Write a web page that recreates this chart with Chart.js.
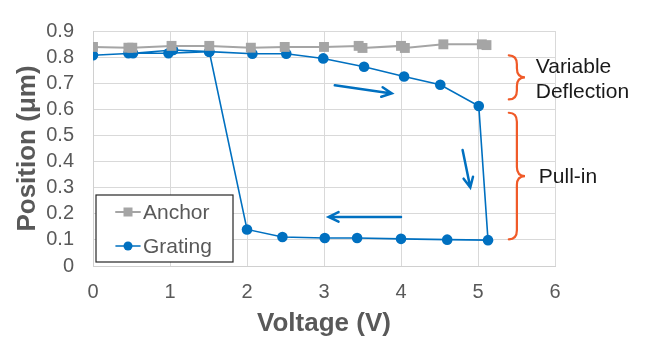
<!DOCTYPE html>
<html>
<head>
<meta charset="utf-8">
<script src="https://cdn.jsdelivr.net/npm/chart.js@4.4.0/dist/chart.umd.min.js"></script>
<style>
  html, body { margin: 0; padding: 0; background: #fff; }
  #wrap { width: 647px; height: 345px; position: relative; }
</style>
</head>
<body>
<div id="wrap"><canvas id="chart"></canvas></div>
<script>
// values
var anchorVolt = [0, 0.46, 0.51, 1.02, 1.51, 2.05, 2.49, 3.0, 3.45, 3.5, 4.0, 4.05, 4.55, 5.05, 5.11];
var anchorPos  = [0.839, 0.836, 0.836, 0.843, 0.843, 0.836, 0.839, 0.839, 0.843, 0.835, 0.843, 0.835, 0.849, 0.849, 0.846];

// sweep up, pull-in, then sweep back down
var gratingVolt = [0, 0.52, 1.04, 1.51, 2.07, 2.51, 2.99, 3.52, 4.04, 4.51, 5.01, 5.13, 4.6, 4.0, 3.43, 3.01, 2.46, 2.0, 1.51, 0.98, 0.46];
var gratingPos  = [0.807, 0.815, 0.827, 0.821, 0.813, 0.813, 0.795, 0.763, 0.726, 0.694, 0.613, 0.099, 0.101, 0.104, 0.107, 0.107, 0.111, 0.14, 0.821, 0.815, 0.815];

var xTicks = [0, 1, 2, 3, 4, 5, 6];
var yTicks = [0, 0.1, 0.2, 0.3, 0.4, 0.5, 0.6, 0.7, 0.8, 0.9];

var FONT = "'Liberation Sans', Arial, sans-serif";
var GRAY = '#A5A5A5', BLUE = '#0070C0', ORANGE = '#F05A28';

function pts(xs, ys) {
  return xs.map(function (x, i) { return { x: x, y: ys[i] }; });
}

// arrows, braces and notes, placed in data units
var arrows = [
  { from: [3.14, 0.692], to: [3.88, 0.661] },
  { from: [4.80, 0.444], to: [4.90, 0.301] },
  { from: [4.00, 0.188], to: [3.06, 0.188] }
];
var braces = [
  { x0: 5.40, x1: 5.61, y0: 0.807, y1: 0.638 },
  { x0: 5.40, x1: 5.61, y0: 0.587, y1: 0.102 }
];
var notes = [
  { text: 'Variable', x: 5.75, y: 0.761 },
  { text: 'Deflection', x: 5.75, y: 0.664 },
  { text: 'Pull-in', x: 5.79, y: 0.341 }
];

function drawBrace(ctx, xl, xr, yt, yb) {
  var ym = (yt + yb) / 2, w = xr - xl, r = Math.min(9, (yb - yt) / 4);
  ctx.beginPath();
  ctx.moveTo(xl, yt);
  ctx.quadraticCurveTo(xl + w * 0.5, yt, xl + w * 0.5, yt + r);
  ctx.lineTo(xl + w * 0.5, ym - r);
  ctx.quadraticCurveTo(xl + w * 0.5, ym, xr, ym);
  ctx.quadraticCurveTo(xl + w * 0.5, ym, xl + w * 0.5, ym + r);
  ctx.lineTo(xl + w * 0.5, yb - r);
  ctx.quadraticCurveTo(xl + w * 0.5, yb, xl, yb);
  ctx.stroke();
}

var extras = {
  id: 'extras',
  afterDatasetsDraw: function (chart) {
    var ctx = chart.ctx, xs = chart.scales.x, ys = chart.scales.y;
    ctx.save();
    // arrows
    ctx.strokeStyle = BLUE;
    ctx.lineWidth = 2.5;
    ctx.lineCap = 'round';
    arrows.forEach(function (a) {
      var x0 = xs.getPixelForValue(a.from[0]), y0 = ys.getPixelForValue(a.from[1]);
      var x1 = xs.getPixelForValue(a.to[0]), y1 = ys.getPixelForValue(a.to[1]);
      var ang = Math.atan2(y1 - y0, x1 - x0), h = 11;
      ctx.beginPath();
      ctx.moveTo(x0, y0); ctx.lineTo(x1, y1);
      ctx.moveTo(x1 - h * Math.cos(ang - 0.45), y1 - h * Math.sin(ang - 0.45));
      ctx.lineTo(x1, y1);
      ctx.lineTo(x1 - h * Math.cos(ang + 0.45), y1 - h * Math.sin(ang + 0.45));
      ctx.stroke();
    });
    // braces
    ctx.strokeStyle = ORANGE;
    ctx.lineWidth = 2.2;
    braces.forEach(function (b) {
      drawBrace(ctx, xs.getPixelForValue(b.x0), xs.getPixelForValue(b.x1),
        ys.getPixelForValue(b.y0), ys.getPixelForValue(b.y1));
    });
    // notes
    ctx.fillStyle = '#1a1a1a';
    ctx.font = '21px ' + FONT;
    ctx.textAlign = 'left';
    ctx.textBaseline = 'middle';
    notes.forEach(function (n) {
      ctx.fillText(n.text, xs.getPixelForValue(n.x), ys.getPixelForValue(n.y));
    });
    // legend box inside the plot
    var ca = chart.chartArea;
    var bx = ca.left + 3, bw = 137, bh = 67, by = ca.bottom - 4 - bh;
    ctx.fillStyle = '#fff';
    ctx.fillRect(bx, by, bw, bh);
    ctx.strokeStyle = '#262626';
    ctx.lineWidth = 1.2;
    ctx.strokeRect(bx, by, bw, bh);
    ctx.font = '21px ' + FONT;
    chart.data.datasets.forEach(function (ds, i) {
      var cy = by + 17 + i * 34, lx = bx + 20, cx = lx + 12;
      ctx.strokeStyle = ds.borderColor;
      ctx.lineWidth = ds.borderWidth;
      ctx.beginPath(); ctx.moveTo(lx, cy); ctx.lineTo(lx + 24, cy); ctx.stroke();
      ctx.fillStyle = ds.pointBackgroundColor;
      if (ds.pointStyle === 'rect') {
        ctx.fillRect(cx - 4.5, cy - 4.5, 9, 9);
      } else {
        ctx.beginPath(); ctx.arc(cx, cy, 4.5, 0, Math.PI * 2); ctx.fill();
      }
      ctx.fillStyle = '#595959';
      ctx.fillText(ds.label, bx + 47, cy + 1);
    });
    ctx.restore();
  }
};

new Chart(document.getElementById('chart'), {
  type: 'scatter',
  data: {
    datasets: [{
      label: 'Anchor',
      data: pts(anchorVolt, anchorPos),
      showLine: true,
      borderColor: GRAY,
      backgroundColor: GRAY,
      pointBackgroundColor: GRAY,
      pointBorderColor: GRAY,
      borderWidth: 2,
      pointStyle: 'rect',
      pointRadius: 7,
      pointBorderWidth: 0
    }, {
      label: 'Grating',
      data: pts(gratingVolt, gratingPos),
      showLine: true,
      borderColor: BLUE,
      backgroundColor: BLUE,
      pointBackgroundColor: BLUE,
      pointBorderColor: BLUE,
      borderWidth: 1.6,
      pointStyle: 'circle',
      pointRadius: 5.3,
      pointBorderWidth: 0
    }]
  },
  options: {
    responsive: true,
    maintainAspectRatio: false,
    animation: false,
    layout: { padding: { top: 2, right: 92, bottom: 0, left: 0 } },
    plugins: {
      legend: { display: false },
      tooltip: { enabled: false }
    },
    scales: {
      x: {
        type: 'linear',
        min: 0, max: 6,
        afterBuildTicks: function (s) { s.ticks = xTicks.map(function (v) { return { value: v }; }); },
        afterFit: function (s) { s.height = 79; },
        grid: { color: '#d9d9d9', lineWidth: 1, drawTicks: false },
        border: { color: '#d0d0d0' },
        ticks: { autoSkip: false, maxRotation: 0, padding: 14, color: '#595959', font: { family: FONT, size: 20 } },
        title: {
          display: true, text: 'Voltage (V)', color: '#595959',
          font: { family: FONT, size: 26, weight: 'bold' },
          padding: { top: 0, bottom: 6 }
        }
      },
      y: {
        type: 'linear',
        min: 0, max: 0.9,
        afterBuildTicks: function (s) { s.ticks = yTicks.map(function (v) { return { value: v }; }); },
        afterFit: function (s) { s.width = 93; },
        grid: { color: '#d9d9d9', lineWidth: 1, drawTicks: false },
        border: { color: '#d0d0d0' },
        ticks: { autoSkip: false, padding: 19, color: '#595959', font: { family: FONT, size: 20 } },
        title: {
          display: true, text: 'Position (μm)', color: '#595959',
          font: { family: FONT, size: 26, weight: 'bold' },
          padding: { top: 12, bottom: 0 }
        }
      }
    }
  },
  plugins: [extras]
});
</script>
</body>
</html>
